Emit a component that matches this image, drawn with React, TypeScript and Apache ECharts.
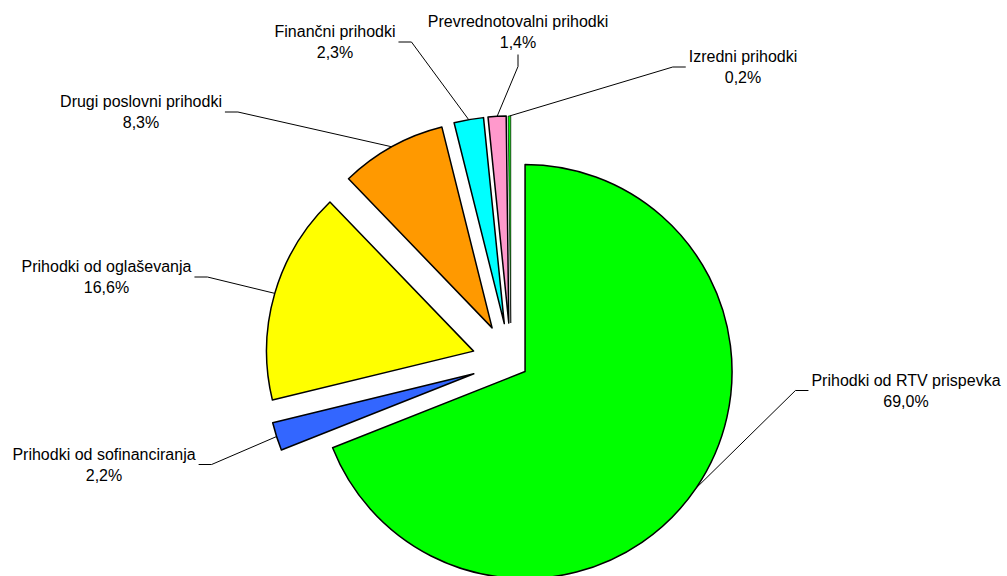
import React, { useEffect, useRef } from "react";
import * as echarts from "echarts";

const categories = [
  "Prihodki od RTV prispevka",
  "Prihodki od sofinanciranja",
  "Prihodki od oglaševanja",
  "Drugi poslovni prihodki",
  "Finančni prihodki",
  "Prevrednotovalni prihodki",
  "Izredni prihodki",
];
const shares = [69.0, 2.2, 16.6, 8.3, 2.3, 1.4, 0.2];
const colors = ["#00FF00", "#3366FF", "#FFFF00", "#FF9900", "#00FFFF", "#FF99CC", "#00FF00"];

// layout (not data): explode distance per slice, border width, label placement
const explode = [17, 39, 39, 39, 39, 39, 39];
const borderWidths = [1.5, 1.5, 1.5, 1.5, 1.5, 1.5, 0.7];
const pieCenter = [511, 362];
const pieRadius = 207;
// label block centre and which side the leader line attaches to
const labelPlace: { x: number; y: number; side: "left" | "right" | "bottom" }[] = [
  { x: 906, y: 390.5, side: "left" },
  { x: 104, y: 464.5, side: "right" },
  { x: 106.5, y: 277, side: "right" },
  { x: 141, y: 112, side: "right" },
  { x: 335, y: 42, side: "right" },
  { x: 518, y: 31.5, side: "bottom" },
  { x: 743, y: 67, side: "left" },
];

export default function App() {
  const ref = useRef<HTMLDivElement>(null);
  useEffect(() => {
    if (!ref.current) return;
    const chart = echarts.init(ref.current, null, { renderer: "svg" });
    const total = shares.reduce((a, b) => a + b, 0);
    let cum = 0;
    const series: any[] = shares.map((v, i) => {
      const mid = ((cum + v / 2) / total) * Math.PI * 2;
      cum += v;
      const c = [
        pieCenter[0] + explode[i] * Math.sin(mid),
        pieCenter[1] - explode[i] * Math.cos(mid),
      ];
      return {
        type: "pie",
        center: c,
        radius: pieRadius,
        startAngle: 90,
        clockwise: true,
        avoidLabelOverlap: false,
        silent: true,
        emphasis: { disabled: true },
        data: shares.map((val, j) => ({
          name: categories[j],
          value: val,
          itemStyle:
            j === i
              ? { color: colors[j], borderColor: "#000", borderWidth: borderWidths[j] }
              : { color: "rgba(0,0,0,0)", borderWidth: 0 },
          label: { show: j === i },
          labelLine: { show: j === i },
        })),
        label: {
          position: "outside",
          formatter: (p: any) =>
            `${p.name}\n${Number(p.value).toFixed(1).replace(".", ",")}%`,
          fontFamily: "Liberation Sans, Arial, sans-serif",
          fontSize: 16,
          lineHeight: 21,
          color: "#000",
          align: "center",
        },
        labelLine: {
          show: true,
          length: 20,
          length2: 10,
          lineStyle: { color: "#000", width: 1 },
        },
        labelLayout: (p: any) => {
          const lp = labelPlace[p.dataIndex];
          const pts = p.labelLinePoints;
          const w = p.labelRect.width;
          const h = p.labelRect.height;
          let end: number[];
          let elbow: number[];
          if (lp.side === "left") {
            end = [lp.x - w / 2 - 3, lp.y];
            elbow = [end[0] - 13, lp.y];
          } else if (lp.side === "right") {
            end = [lp.x + w / 2 + 3, lp.y];
            elbow = [end[0] + 13, lp.y];
          } else {
            end = [lp.x, lp.y + h / 2 + 2];
            elbow = [lp.x, end[1] + 12];
          }
          return {
            x: lp.x,
            y: lp.y,
            align: "center",
            verticalAlign: "middle",
            labelLinePoints: pts ? [pts[0], elbow, end] : undefined,
          };
        },
      };
    });
    chart.setOption({ animation: false, series });
    return () => chart.dispose();
  }, []);
  return (
    <div
      ref={ref}
      style={{ position: "fixed", left: 0, top: 0, width: 1007, height: 576, background: "#fff" }}
    />
  );
}
